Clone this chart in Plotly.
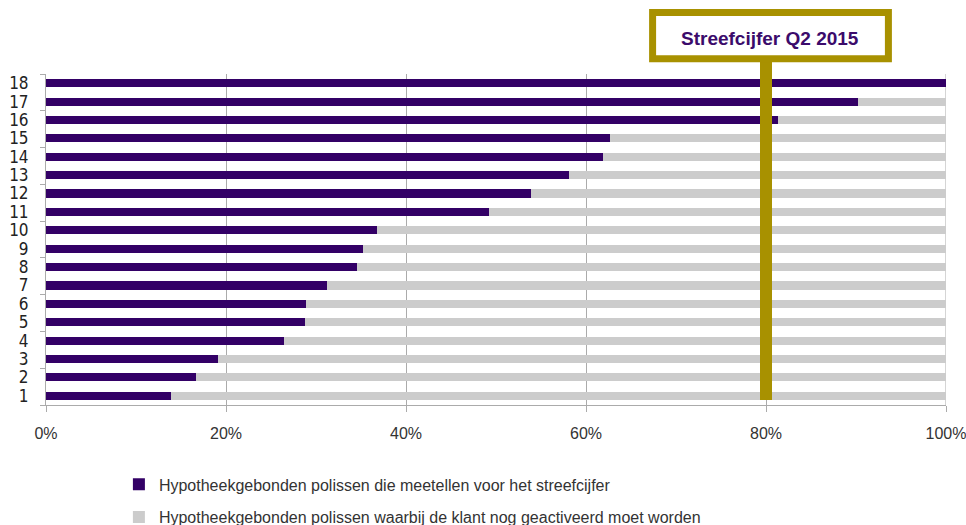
import plotly.graph_objects as go

categories = [str(i) for i in range(1, 19)]
meetellen = [13.9, 16.7, 19.1, 26.4, 28.8, 28.9, 31.2, 34.6, 35.2, 36.8,
             49.2, 53.9, 58.1, 61.9, 62.7, 81.3, 90.2, 100.0]
te_activeren = [round(100 - v, 1) for v in meetellen]
series_names = ["Hypotheekgebonden polissen die meetellen voor het streefcijfer",
                "Hypotheekgebonden polissen waarbij de klant nog geactiveerd moet worden"]
x_ticks = [0, 20, 40, 60, 80, 100]
x_labels = ["0%", "20%", "40%", "60%", "80%", "100%"]
target = 80
target_label = "Streefcijfer Q2 2015"

PURPLE = "#330066"
GRAY = "#CCCCCC"
GOLD = "#A89100"
AXIS = "#ABABAB"
FONT = "DejaVu Sans Condensed, Liberation Sans, Arial, sans-serif"

ynum = list(range(1, 19))

fig = go.Figure()
fig.add_trace(go.Bar(y=ynum, x=meetellen, orientation="h", name=series_names[0],
                     legendgroup="a", marker=dict(color=PURPLE, line=dict(width=0))))
fig.add_trace(go.Bar(y=ynum, x=te_activeren, orientation="h", name=series_names[1],
                     legendgroup="b", marker=dict(color=GRAY, line=dict(width=0))))

fig.update_layout(
    barmode="stack",
    bargap=0.56,
    width=966, height=525,
    margin=dict(l=46, r=20, t=74, b=120, autoexpand=False),
    plot_bgcolor="white", paper_bgcolor="white",
    font=dict(family="Liberation Sans, Arial, sans-serif", size=16, color="#333333"),
    showlegend=True,
    legend=dict(orientation="v", x=0.081, y=-0.391, xanchor="left", yanchor="bottom",
                traceorder="grouped", font=dict(size=16, color="#333333"), itemwidth=30,
                tracegroupgap=9, bgcolor="rgba(0,0,0,0)"),
    xaxis=dict(range=[0, 100.0001], tickvals=x_ticks, ticktext=x_labels,
               showgrid=True, gridcolor=AXIS, gridwidth=1,
               showline=True, linecolor=AXIS, linewidth=1,
               ticks="outside", ticklen=6, tickcolor=AXIS, ticklabelstandoff=8,
               ticklabeloverflow="allow",
               tickfont=dict(size=16, color="#333333"), zeroline=False, automargin=False),
    yaxis=dict(range=[0.5, 18.5], tickvals=ynum, ticktext=categories,
               showgrid=False, showline=True, linecolor=AXIS, linewidth=1,
               ticks="outside", ticklen=13, tickcolor="rgba(0,0,0,0)",
               tickfont=dict(family=FONT, size=17, color="#222222"), zeroline=False,
               automargin=False,
               minor=dict(tickvals=[0.5 + 2 * i for i in range(10)], ticks="outside",
                          ticklen=5, tickcolor=AXIS, showgrid=False)),
)

# 100% gridline at the right edge
fig.add_shape(type="line", xref="x", yref="paper", x0=100, x1=100, y0=0, y1=1,
              line=dict(color=AXIS, width=1), layer="below")
# target line
fig.add_shape(type="line", xref="x", yref="paper", x0=target, x1=target,
              y0=0.015, y1=1.04, line=dict(color=GOLD, width=12), layer="above")
# label box
fig.add_shape(type="rect", xref="x", yref="paper", x0=67.4, x1=93.6,
              y0=1.046, y1=1.186, line=dict(color=GOLD, width=7),
              fillcolor="white", layer="above")
fig.add_annotation(x=80.4, xref="x", y=1.106, yref="paper", yanchor="middle",
                   text="<b>" + target_label + "</b>",
                   showarrow=False, font=dict(family="Liberation Sans, Arial, sans-serif",
                                              size=19, color="#3B0B6B"))

fig.write_html("out.html", config={"displayModeBar": False},
               post_script="document.body.style.margin='0';")
